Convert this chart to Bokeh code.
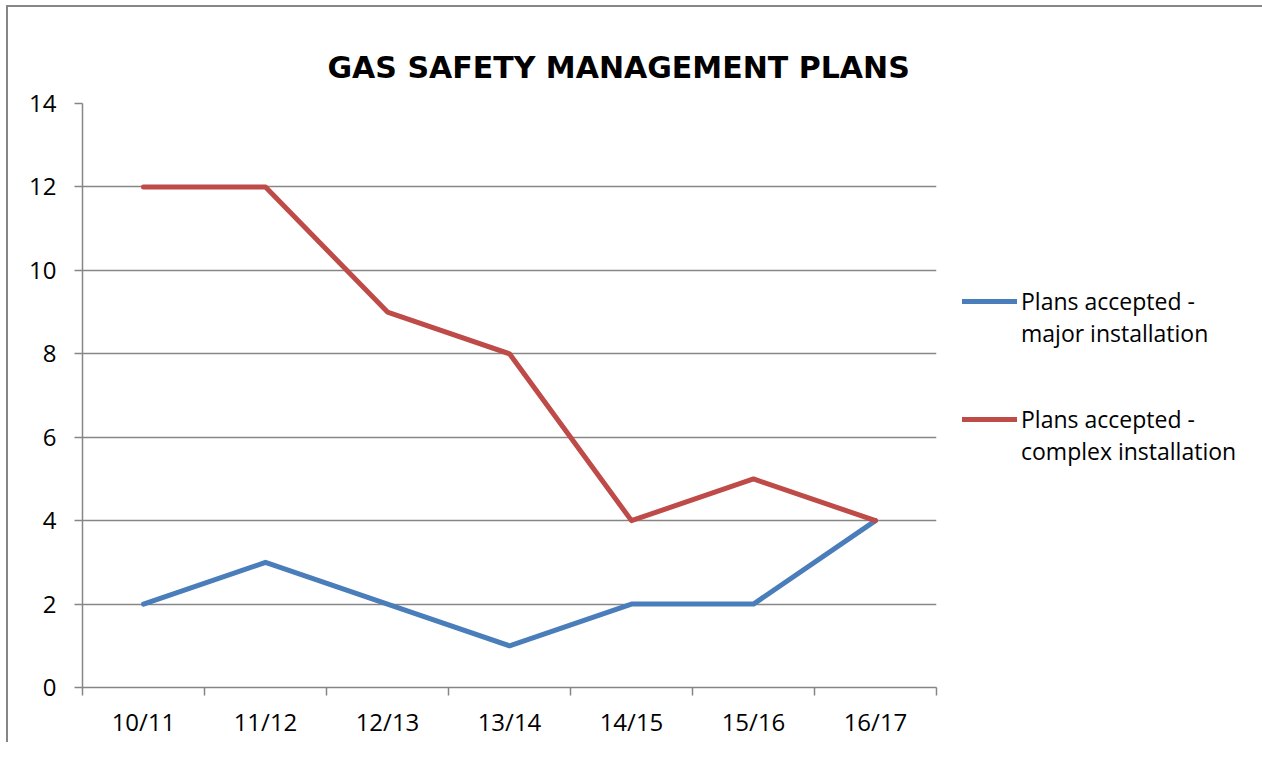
from bokeh.plotting import figure
from bokeh.models import FixedTicker, Legend, LegendItem, Range1d, Title
from bokeh.embed import file_html
from bokeh.resources import INLINE

categories = ["10/11", "11/12", "12/13", "13/14", "14/15", "15/16", "16/17"]
major = [2, 3, 2, 1, 2, 2, 4]
complex_ = [12, 12, 9, 8, 4, 5, 4]
y_ticks = [0, 2, 4, 6, 8, 10, 12, 14]
series_names = ["Plans accepted -\nmajor installation",
                "Plans accepted -\ncomplex installation"]

FONT = "Open Sans"
GRAY = "#868686"
BLUE = "#4A7EBB"
RED = "#BE4B48"

xs = [i + 0.5 for i in range(len(categories))]

p = figure(frame_width=854, frame_height=584, min_border_left=74, min_border_top=96,
           min_border_right=324, min_border_bottom=55,
           x_range=Range1d(0, len(categories)), y_range=Range1d(0, 14),
           output_backend="svg", toolbar_location=None,
           background_fill_color="white", border_fill_color="white")
p.outline_line_color = None
p.styles = {"margin-left": "6px", "margin-top": "5px",
            "border-left": "2px solid #868686", "border-top": "2px solid #868686",
            "border-right": "2px solid #868686"}

# x axis
p.xaxis.ticker = FixedTicker(ticks=xs, minor_ticks=list(range(len(categories) + 1)))
p.xaxis.major_label_overrides = {x: c for x, c in zip(xs, categories)}
p.xaxis.major_tick_out = 0
p.xaxis.major_tick_in = 0
p.xaxis.minor_tick_out = 8
p.xaxis.minor_tick_in = 0
p.xaxis.minor_tick_line_color = GRAY
p.xaxis.minor_tick_line_width = 1.5
p.xaxis.axis_line_color = GRAY
p.xaxis.axis_line_width = 1.5
p.xaxis.major_label_text_font = FONT
p.xaxis.major_label_text_font_size = "24px"
p.xaxis.major_label_text_color = "black"
p.xaxis.major_label_standoff = 9
p.xgrid.grid_line_color = None

# y axis
p.yaxis.ticker = FixedTicker(ticks=y_ticks, minor_ticks=[])
p.yaxis.major_tick_out = 8
p.yaxis.major_tick_in = 0
p.yaxis.major_tick_line_color = GRAY
p.yaxis.major_tick_line_width = 1.5
p.yaxis.axis_line_color = GRAY
p.yaxis.axis_line_width = 1.5
p.yaxis.major_label_text_font = FONT
p.yaxis.major_label_text_font_size = "24px"
p.yaxis.major_label_text_color = "black"
p.yaxis.major_label_standoff = 18
p.ygrid.ticker = FixedTicker(ticks=y_ticks)
p.ygrid.grid_line_color = GRAY
p.ygrid.grid_line_width = 1.5

r1 = p.line(xs, major, line_color=BLUE, line_width=5, line_cap="round", line_join="round")
r2 = p.line(xs, complex_, line_color=RED, line_width=5, line_cap="round", line_join="round")

# a leading blank line puts the legend swatch level with the first text line
legend = Legend(items=[LegendItem(label="\n" + series_names[0], renderers=[r1]),
                       LegendItem(label="\n" + series_names[1], renderers=[r2])],
                location=(26, 220), orientation="vertical")
legend.label_text_font = FONT
legend.label_text_font_size = "23px"
legend.label_text_color = "black"
legend.glyph_width = 55
legend.glyph_height = 20
legend.label_standoff = 4
legend.spacing = 22
legend.margin = 0
legend.padding = 0
legend.border_line_color = None
legend.background_fill_alpha = 0
p.add_layout(legend, "right")

t = Title(text="GAS SAFETY MANAGEMENT PLANS", align="left", offset=245,
          text_font="DejaVu Sans", text_font_size="30px", text_font_style="bold",
          text_color="black", standoff=38)
p.add_layout(t, "above")

open("out.html", "w").write(file_html(p, INLINE))
